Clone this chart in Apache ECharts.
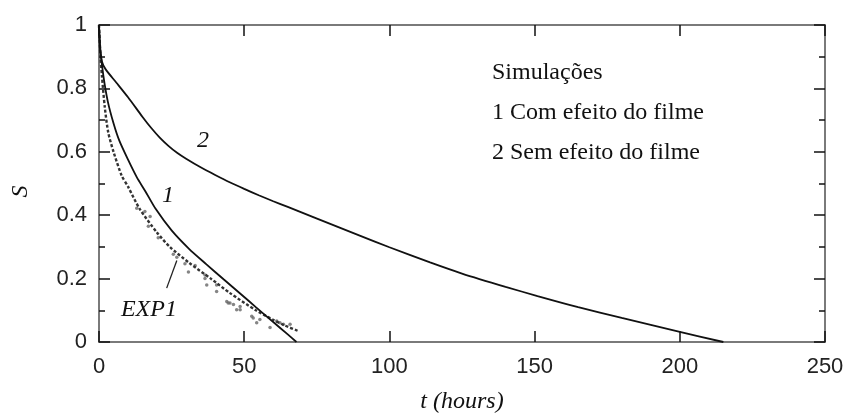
<!DOCTYPE html>
<html>
<head>
<meta charset="utf-8">
<script src="https://cdn.jsdelivr.net/npm/echarts@6/dist/echarts.min.js"></script>
<style>
  html, body { margin: 0; padding: 0; background: #fff; }
  #chart { width: 850px; height: 419px; }
</style>
</head>
<body>
<div id="chart"></div>
<script>
// curve 2: simulation without film effect
const sim2T = [0, 0.3, 1, 2.3, 6, 10, 15, 18, 21, 24, 27, 30, 35, 40, 45, 50, 55, 60, 65, 74, 90, 100, 114, 125, 140, 151, 165, 180, 200, 215];
const sim2S = [1, 0.93, 0.885, 0.86, 0.818, 0.772, 0.71, 0.675, 0.644, 0.618, 0.596, 0.578, 0.551, 0.527, 0.504, 0.483, 0.463, 0.444, 0.426, 0.393, 0.335, 0.299, 0.251, 0.216, 0.174, 0.145, 0.11, 0.076, 0.032, 0];

// curve 1: simulation with film effect
const sim1T = [0, 0.5, 1.5, 3, 5, 7, 10, 13, 16, 19.5, 25, 31, 37, 43, 49, 54, 60, 65, 68];
const sim1S = [1, 0.92, 0.84, 0.76, 0.69, 0.635, 0.575, 0.52, 0.475, 0.42, 0.352, 0.294, 0.245, 0.197, 0.15, 0.11, 0.063, 0.024, 0];

// EXP1 experimental band (dashed)
const expT = [0, 0.5, 1, 2, 3.2, 5, 7.8, 10, 14, 20, 24.4, 31, 38.5, 45, 54, 60, 64, 68.5];
const expS = [1, 0.9, 0.84, 0.74, 0.66, 0.6, 0.525, 0.49, 0.42, 0.345, 0.3, 0.25, 0.2, 0.155, 0.1, 0.07, 0.052, 0.035];

// EXP1 scattered points
const dotsT = [13.0, 15.8, 17.6, 17.0, 20.4, 25.6, 26.8, 29.6, 30.8, 36.5, 37.1, 40.5, 44.0, 47.4, 53.1, 54.3, 58.9, 61.2,
               44.5, 46.3, 48.6, 52.6, 55.4, 62.3, 65.8, 33.1, 36.5, 40.5, 45.1, 48.6, 63.5];
const dotsS = [0.422, 0.412, 0.396, 0.365, 0.329, 0.277, 0.267, 0.247, 0.221, 0.211, 0.18, 0.18, 0.128, 0.102, 0.076, 0.061, 0.046, 0.066,
               0.123, 0.118, 0.102, 0.081, 0.071, 0.061, 0.056, 0.241, 0.2, 0.159, 0.123, 0.112, 0.056];

const xTicks = [0, 50, 100, 150, 200, 250];
const legendLines = ['Simulações', '1 Com efeito do filme', '2 Sem efeito do filme'];

const zip = (a, b) => a.map((v, i) => [v, b[i]]);

const sans = '"Liberation Sans", Arial, sans-serif';
const serif = '"Liberation Serif", "Times New Roman", serif';
const frame = {onZero: false, lineStyle: {color: '#7a7a7a', width: 2}};
const ticks = {show: true, inside: true, length: 11, lineStyle: {color: '#111', width: 1.5}};
const minor = {show: true, splitNumber: 2, length: 6, lineStyle: {color: '#111', width: 1.5}};

const chart = echarts.init(document.getElementById('chart'));

function curveLabel(text, coord) {
    return {
        coord,
        symbol: 'circle',
        symbolSize: 1,
        itemStyle: {color: 'rgba(0,0,0,0)'},
        label: {
            show: true, position: 'inside', formatter: text,
            fontFamily: serif, fontStyle: 'italic', fontSize: 24, color: '#111'
        }
    };
}

chart.setOption({
    animation: false,
    grid: {left: 99, right: 25, top: 25, bottom: 71},
    xAxis: [{
        type: 'value', min: xTicks[0], max: xTicks[xTicks.length - 1], interval: 50,
        name: 't (hours)', nameLocation: 'middle', nameGap: 48,
        nameTextStyle: {fontFamily: serif, fontStyle: 'italic', fontSize: 24, color: '#111'},
        axisLine: frame, axisTick: ticks, splitLine: {show: false},
        axisLabel: {fontFamily: sans, fontSize: 22, color: '#222', margin: 14}
    }, {
        type: 'value', position: 'top', min: 0, max: 250, interval: 50,
        axisLine: frame, axisTick: ticks, axisLabel: {show: false}, splitLine: {show: false}
    }],
    yAxis: [{
        type: 'value', min: 0, max: 1, interval: 0.2,
        name: 'S', nameLocation: 'middle', nameGap: 66,
        nameTextStyle: {fontFamily: serif, fontStyle: 'italic', fontSize: 24, color: '#111', padding: [0, 16, 0, 0]},
        axisLine: frame, axisTick: ticks, minorTick: minor,
        splitLine: {show: false}, minorSplitLine: {show: false},
        axisLabel: {fontFamily: sans, fontSize: 22, color: '#222', margin: 12}
    }, {
        type: 'value', position: 'right', min: 0, max: 1, interval: 0.2,
        axisLine: frame, axisTick: ticks, minorTick: minor,
        axisLabel: {show: false}, splitLine: {show: false}, minorSplitLine: {show: false}
    }],
    graphic: legendLines.map((t, i) => ({
        type: 'text', left: 492, top: 61 + i * 40,
        style: {text: t, fontFamily: serif, fontSize: 24, fill: '#111'}
    })),
    series: [{
        name: 'EXP1 pontos', type: 'scatter', data: zip(dotsT, dotsS),
        symbolSize: 3.5, itemStyle: {color: '#666'},
        markPoint: {data: [curveLabel('EXP1', [17.2, 0.102])]},
        markLine: {
            symbol: 'none', silent: true, label: {show: false},
            lineStyle: {color: '#222', width: 1.3, type: 'solid'},
            data: [[{coord: [23.3, 0.17]}, {coord: [26.8, 0.257]}]]
        }
    }, {
        name: 'EXP1', type: 'line', data: zip(expT, expS), showSymbol: false, smooth: 0.25,
        lineStyle: {color: '#333', width: 2.4, type: [3, 2]}
    }, {
        name: '1', type: 'line', data: zip(sim1T, sim1S), showSymbol: false, smooth: 0.25,
        lineStyle: {color: '#111', width: 1.8},
        markPoint: {data: [curveLabel('1', [23.8, 0.461])]}
    }, {
        name: '2', type: 'line', data: zip(sim2T, sim2S), showSymbol: false, smooth: 0.25,
        lineStyle: {color: '#111', width: 1.8},
        markPoint: {data: [curveLabel('2', [35.8, 0.635])]}
    }]
});
</script>
</body>
</html>
